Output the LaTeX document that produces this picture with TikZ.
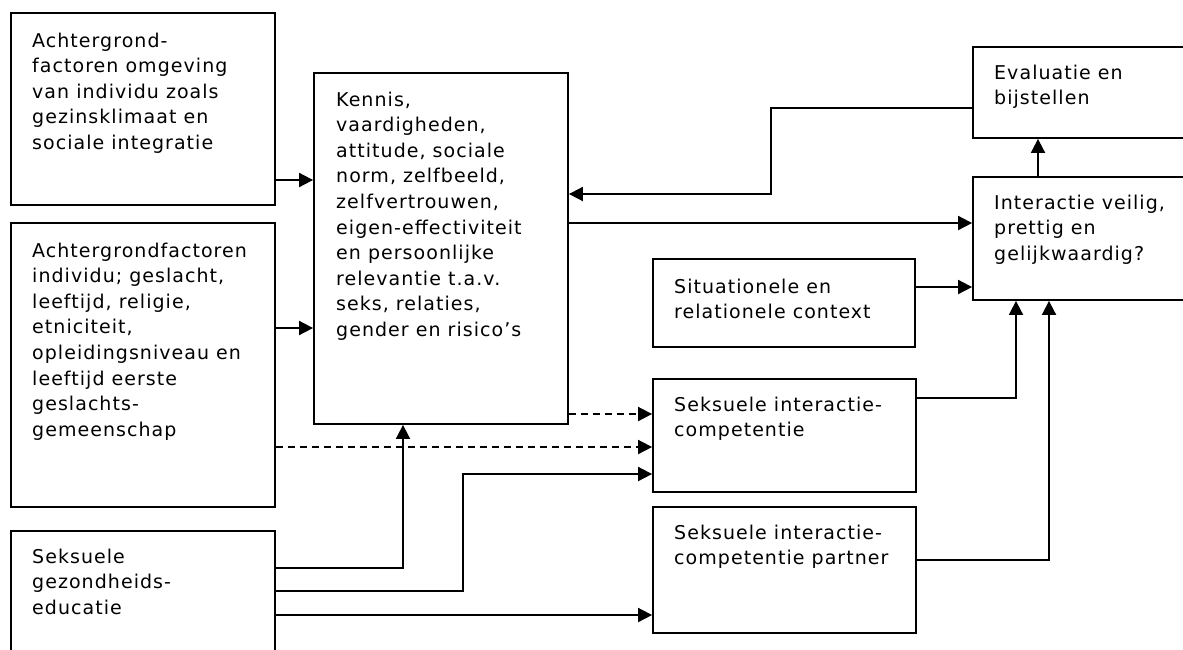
\documentclass[tikz,border=0pt]{standalone}
\usepackage{fontspec}
\newfontfamily\dvfont[LetterSpace=5.5]{DejaVu Sans}
\usetikzlibrary{arrows.meta,fit}
\newcommand\bxtext[1]{\parbox[t]{300pt}{\raggedright #1}}
\begin{document}
\begin{tikzpicture}[x=1pt,y=-1pt,
  box/.style={draw=black,line width=1.8pt,inner sep=0pt,rectangle},
  txt/.style={inner sep=0pt,anchor=base west,font=\dvfont\fontsize{19}{25.6}\selectfont},
  arr/.style={line width=1.8pt,-{Triangle[length=14pt,width=14pt]}},
  darr/.style={arr,dash pattern=on 7pt off 5pt}]
\useasboundingbox (0,0) rectangle (1183,649);
\clip (0,0) rectangle (1183,649);
% boxes
\node[box,fit={(11,13)(275,205)}] (A) {};
\node[box,fit={(11,223)(275,507)}] (B) {};
\node[box,fit={(11,531)(275,670)}] (C) {};
\node[box,fit={(314,73)(568,424)}] (K) {};
\node[box,fit={(653,259)(915,347)}] (S) {};
\node[box,fit={(653,379)(916,492)}] (SIC) {};
\node[box,fit={(653,507)(916,633)}] (SICP) {};
\node[box,fit={(973,47)(1200,138)}] (E) {};
\node[box,fit={(973,177)(1200,300)}] (I) {};
% texts
\node[txt] (At) at (32,47) {\bxtext{Achtergrond-\\factoren omgeving\\van individu zoals\\gezinsklimaat en\\sociale integratie}};
\node[txt] (Bt) at (32,257) {\bxtext{Achtergrondfactoren\\individu; geslacht,\\leeftijd, religie,\\etniciteit,\\opleidingsniveau en\\leeftijd eerste\\geslachts-\\gemeenschap}};
\node[txt] (Ct) at (32,563) {\bxtext{Seksuele\\gezondheids-\\educatie}};
\node[txt] (Kt) at (336,106) {\bxtext{Kennis,\\vaardigheden,\\attitude, sociale\\norm, zelfbeeld,\\zelfvertrouwen,\\eigen-effectiviteit\\en persoonlijke\\relevantie t.a.v.\\seks, relaties,\\gender en risico’s}};
\node[txt] (St) at (674,293) {\bxtext{Situationele en\\relationele context}};
\node[txt] (SICt) at (674,411) {\bxtext{Seksuele interactie-\\competentie}};
\node[txt] (SICPt) at (674,539) {\bxtext{Seksuele interactie-\\competentie partner}};
\node[txt] (Et) at (994,79) {\bxtext{Evaluatie en\\bijstellen}};
\node[txt] (It) at (994,209) {\bxtext{Interactie veilig,\\prettig en\\gelijkwaardig?}};
% connectors
\draw[arr] (A.east |- 0,180) -- (K.west |- 0,180);
\draw[arr] (B.east |- 0,328) -- (K.west |- 0,328);
\draw[darr] (K.east |- 0,414) -- (SIC.west |- 0,414);
\draw[darr] (B.east |- 0,447) -- (SIC.west |- 0,447);
\draw[arr] (K.east |- 0,223) -- (I.west |- 0,223);
\draw[arr] (E.west |- 0,108) -| (771,194) -- (K.east |- 0,194);
\draw[arr] (S.east |- 0,287) -- (I.west |- 0,287);
\draw[arr] (I.north -| 1038,0) -- (E.south -| 1038,0);
\draw[arr] (SIC.east |- 0,398) -| (I.south -| 1016,0);
\draw[arr] (SICP.east |- 0,560) -| (I.south -| 1049,0);
\draw[arr] (C.east |- 0,568) -| (K.south -| 403,0);
\draw[arr] (C.east |- 0,591) -| (463,474) -- (SIC.west |- 0,474);
\draw[arr] (C.east |- 0,615) -- (SICP.west |- 0,615);
\end{tikzpicture}
\end{document}
